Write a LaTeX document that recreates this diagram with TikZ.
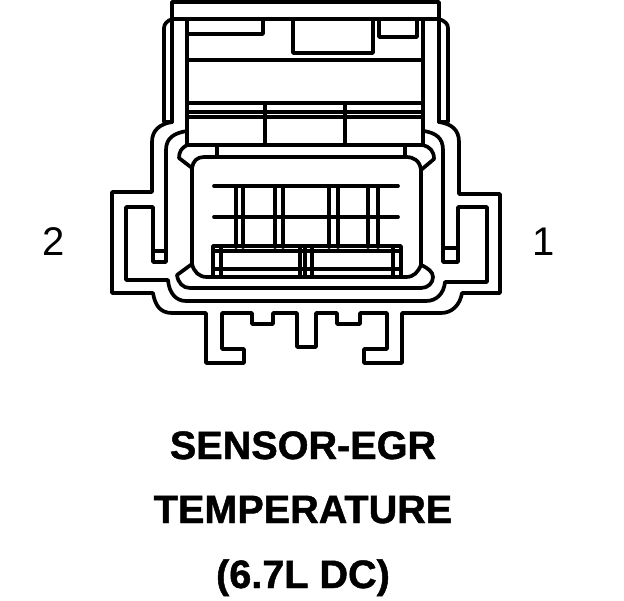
\documentclass[tikz,border=0pt]{standalone}
\usepackage{fontspec}
\setmainfont[BoldFeatures={FakeBold=1.2}]{Liberation Sans}
\tikzset{
  ln/.style={line width=3.7pt,line join=round,line cap=round,draw=black},
  lbl/.style={font=\bfseries\fontsize{39.6pt}{42pt}\selectfont,inner sep=0pt,anchor=base},
  pin/.style={font=\fontsize{40pt}{42pt}\selectfont,inner sep=0pt,anchor=base}
}
\begin{document}
\begin{tikzpicture}[x=1pt,y=-1pt]
\useasboundingbox (0,0) rectangle (624,600);
% top band
\draw[ln] (172,19) -- (172,2) -- (439,2) -- (439,19) -- cycle;
% outer shell
\draw[ln] (172,19) .. controls (167,21) and (164,24) .. (164,28) -- (164,122) -- (172,122)
  .. controls (160,124) and (152,130) .. (152,142) -- (152,192) -- (112,192) -- (112,293) -- (153,293)
  .. controls (155,305) and (160,313) .. (172,313) -- (206,313) -- (206,363) -- (244,363) -- (244,349) -- (222,349) -- (222,313)
  -- (252,313) -- (252,324) -- (273,324) -- (273,313) -- (297,313) -- (297,347) -- (316,347) -- (316,313)
  -- (337,313) -- (337,324) -- (360,324) -- (360,313) -- (387,313) -- (387,349) -- (364,349) -- (364,363) -- (402,363) -- (402,313)
  -- (441,313) .. controls (452,313) and (460,305) .. (462,293) -- (500,293) -- (500,194) -- (459,194) -- (459,142)
  .. controls (459,130) and (452,124) .. (439,122) -- (448,122) -- (448,28) .. controls (448,24) and (445,21) .. (439,19);
\draw[ln] (172,19) -- (172,122);
\draw[ln] (439,19) -- (439,122);
% second shell
\draw[ln] (187,131) .. controls (174,133) and (166,138) .. (166,150) -- (166,262) -- (153,262) -- (153,207) -- (126,207) -- (126,280) -- (168,280)
  .. controls (169,293) and (176,301) .. (186,301) -- (426,301) .. controls (437,301) and (444,293) .. (445,282)
  -- (487,282) -- (487,207) -- (458,207) -- (458,262) -- (443,262) -- (443,150) .. controls (443,138) and (436,133) .. (424,131);
\draw[ln] (153,251) -- (166,251);
\draw[ln] (443,248) -- (458,248);
% upper body
\draw[ln] (187,19) -- (187,145) -- (423,145) -- (423,19);
\draw[ln] (187,34) -- (263,34) -- (263,19);
\draw[ln] (293,19) -- (293,53) -- (373,53) -- (373,19);
\draw[ln] (379,19) -- (379,37) -- (417,37) -- (417,19);
\draw[ln] (187,60) -- (423,60);
\draw[ln] (187,103) -- (423,103);
\draw[ln] (187,112) -- (423,112);
\draw[ln] (187,117) -- (423,117);
\draw[ln] (265,103) -- (265,145);
\draw[ln] (345,103) -- (345,145);
\draw[ln] (217,145) -- (217,156);
\draw[ln] (405,145) -- (405,156);
% inner box
\draw[ln] (192,168) .. controls (193,161) and (197,157) .. (204,157) -- (406,157) .. controls (414,157) and (420,161) .. (421,170)
  -- (421,265) .. controls (418,272) and (414,277) .. (406,277) -- (207,277) .. controls (199,277) and (194,272) .. (192,264) -- cycle;
% ears
\draw[ln] (187,145) .. controls (182,148) and (179,151) .. (179,158) -- (192,168);
\draw[ln] (423,145) .. controls (430,147) and (434,151) .. (434,159) -- (421,170);
\draw[ln] (192,264) -- (177,275) .. controls (178,283) and (183,288) .. (190,288) -- (421,288)
  .. controls (428,288) and (433,283) .. (433,277) .. controls (433,272) and (428,268) .. (421,265);
% grid
\draw[ln] (214,186) -- (398,186);
\draw[ln] (214,217) -- (398,217);
\foreach \gx in {236,243,275,283,329,338,368,378}{\draw[ln] (\gx,186) -- (\gx,247);}
% connector block
\draw[ln] (213,275) -- (213,246) -- (401,246) -- (401,275);
\draw[ln] (213,251) -- (401,251);
\draw[ln] (213,269) -- (401,269);
\foreach \cx in {221,300,305,312,393}{\draw[ln] (\cx,246) -- (\cx,277);}
% text
\node[pin] (two) at (53.5,255.5) {2};
\node[pin] (one) at (543.5,255.5) {1};
\node[lbl] (t1) at (303,459) {SENSOR-EGR};
\node[lbl] (t2) at (303,523) {TEMPERATURE};
\node[lbl] (t3) at (303,588) {(6.7L DC)};
\end{tikzpicture}
\end{document}
